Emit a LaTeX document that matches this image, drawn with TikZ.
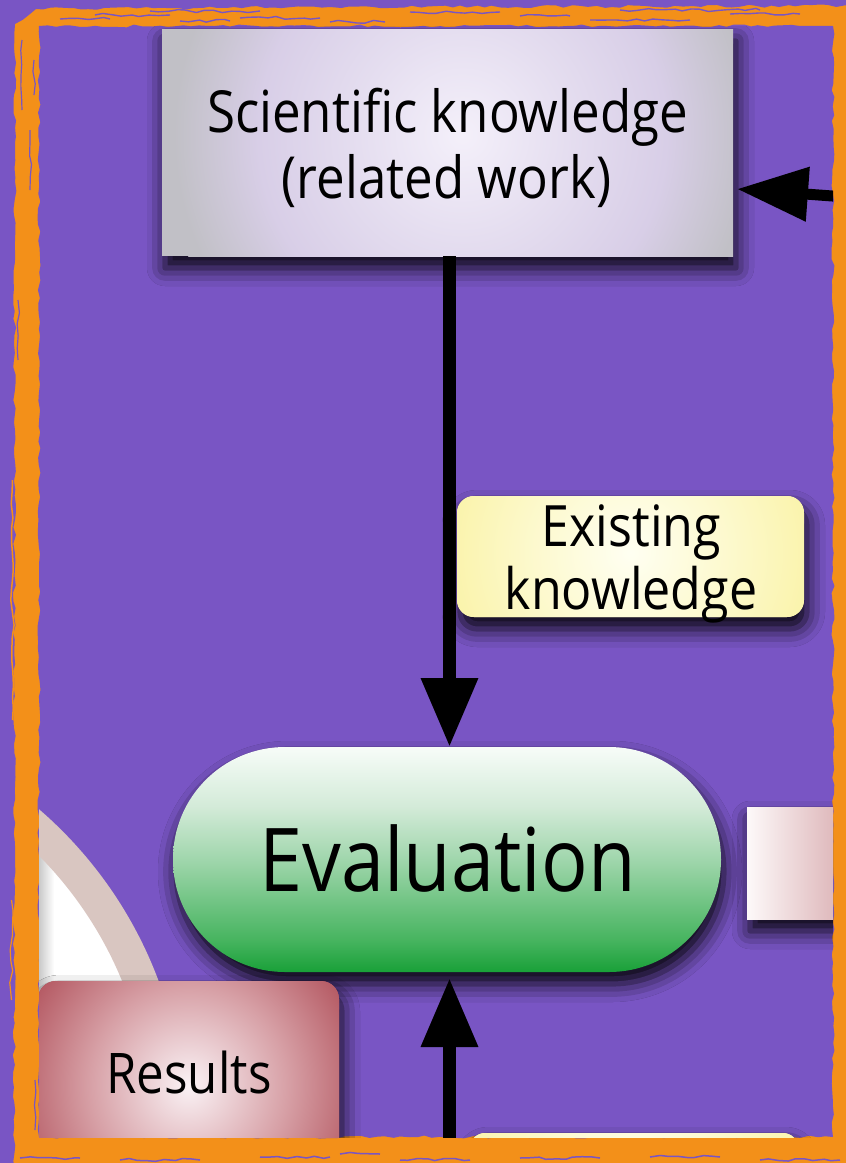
\documentclass[tikz,border=0pt]{standalone}
\usepackage{fontspec}
\setmainfont[FakeStretch=0.88]{Open Sans}
\usetikzlibrary{arrows.meta,shadows.blur,decorations.pathmorphing,calc}

\definecolor{bgpurple}{RGB}{121,85,196}
\definecolor{frameor}{RGB}{243,144,25}
\definecolor{tbC}{RGB}{244,240,250}
\definecolor{tbM}{RGB}{216,206,231}
\definecolor{tbE}{RGB}{193,192,198}
\definecolor{evT}{RGB}{247,252,248}
\definecolor{evQ}{RGB}{212,235,217}
\definecolor{evM}{RGB}{160,214,172}
\definecolor{evL}{RGB}{70,180,95}
\definecolor{evB}{RGB}{25,160,56}
\definecolor{rsC}{RGB}{250,242,245}
\definecolor{rsM}{RGB}{215,160,166}
\definecolor{rsE}{RGB}{176,80,90}
\definecolor{ekC}{RGB}{255,255,242}
\definecolor{ekE}{RGB}{250,243,168}
\definecolor{rbL}{RGB}{253,249,249}
\definecolor{rbR}{RGB}{214,166,170}
\definecolor{bandc}{RGB}{217,198,193}

\pgfdeclareradialshading{topshade}{\pgfpoint{0bp}{0bp}}{color(0bp)=(tbC); color(9bp)=(tbM!55!tbC); color(17bp)=(tbM); color(24bp)=(tbE); color(50bp)=(tbE)}
\pgfdeclareradialshading{resshade}{\pgfpoint{0bp}{0bp}}{color(0bp)=(rsC); color(13bp)=(rsM); color(25bp)=(rsE); color(50bp)=(rsE)}
\pgfdeclareradialshading{ekshade}{\pgfpoint{0bp}{0bp}}{color(0bp)=(ekC); color(13bp)=(ekC!50!ekE); color(25bp)=(ekE); color(50bp)=(ekE)}
\pgfdeclareverticalshading{evshade}{100bp}{color(0bp)=(evB); color(25bp)=(evB); color(32bp)=(evL); color(50bp)=(evM); color(62bp)=(evQ); color(75bp)=(evT); color(100bp)=(evT)}

\tikzset{
  boxbase/.style={inner sep=0pt, outer sep=0pt, draw=none},
  shad/.style={blur shadow={shadow xshift=3pt, shadow yshift=-12pt, shadow blur radius=18pt, shadow opacity=95}},
  txt/.style={inner sep=0pt, text=black, anchor=base},
  arr/.style={line width=13pt, -{Triangle[length=69pt 0,width=54pt 0]}},
  arrside/.style={line width=11pt, -{Triangle[length=71pt 0,width=52pt 0]}},
  rough/.style={decorate, decoration={random steps, segment length=9pt, amplitude=1.6pt}},
  roughv/.style={decorate, decoration={random steps, segment length=12pt, amplitude=1.8pt}},
  edge/.style={decorate, decoration={random steps, segment length=8pt, amplitude=1.5pt}},
}

\begin{document}
\begin{tikzpicture}[x=1pt,y=-1pt]
\useasboundingbox (0,0) rectangle (846,1163);
% orange brush frame as page ground
\fill[frameor] (0,0) rectangle (846,1163);
\pgfmathsetseed{11}
% purple margin outside the frame (left and top)
\fill[bgpurple, edge] (-6,-6) -- (852,-6) -- (852,6) -- (330,7) -- (36,9) -- (30,14) -- (15,24) -- (14,1170) -- (-6,1170) -- cycle;
% purple inside the frame
\fill[bgpurple, edge] (39,26) -- (833,26) -- (833,1137) -- (39,1137) -- cycle;

\begin{scope}
\clip (39,26) rectangle (833,1137);

% partial circle (white disk with band)
\fill[white] (-236,1128) circle (404pt);
\begin{scope}
  \clip (-236,1128) circle (388pt);
  \shade[left color=black!32, right color=white] (31,845) rectangle (54,1163);
\end{scope}
\draw[bandc, line width=34pt] (-236,1128) circle (404pt);

% nodes
\node[boxbase, shad, fill=tbE, minimum width=571pt, minimum height=227pt,
  path picture={\shade[shading=topshade] ([xshift=15pt,yshift=8pt]path picture bounding box.center) circle (300pt);}]
  (sk) at (447.5,142.5) {};

\node[boxbase, shad, fill=ekE, minimum width=347pt, minimum height=121pt, rounded corners=17pt,
  path picture={\shade[shading=ekshade] ([yshift=4pt]path picture bounding box.center) circle (190pt);}]
  (ek) at (630.5,556.5) {};

\node[boxbase, shad, minimum width=548pt, minimum height=225pt, rounded corners=112pt,
  shading=evshade] (ev) at (447,859.5) {};

\node[boxbase, shad, left color=rbL, right color=rbR, minimum width=113pt, minimum height=112pt]
  (rb) at (803.5,863) {};

\node[boxbase, shad, fill=rsE, minimum width=301pt, minimum height=209pt, rounded corners=18pt,
  path picture={\shade[shading=resshade] (path picture bounding box.center) circle (190pt);}]
  (rs) at (188.5,1085.5) {};

\node[boxbase, shad, fill=ekE, minimum width=328pt, minimum height=116pt, rounded corners=15pt,
  path picture={\shade[shading=ekshade] (path picture bounding box.center) circle (190pt);}]
  (yb) at (634,1191) {};

% texts
\node[txt, font=\fontsize{58}{67}\selectfont] (skt1) at (447.5,132) {Scientific knowledge};
\node[txt, font=\fontsize{58}{67}\selectfont] (skt2) at (446.5,198) {(related work)};
\node[txt, font=\fontsize{57}{62}\selectfont] (ekt1) at (631.5,546) {Existing};
\node[txt, font=\fontsize{57}{62}\selectfont] (ekt2) at (631,609) {knowledge};
\node[txt, font=\fontsize{88}{96}\selectfont] (evt) at (447.5,891) {Evaluation};
\node[txt, font=\fontsize{56}{62}\selectfont] (rst) at (189,1093) {Results};

% connectors
\coordinate (rin) at (846,197);
\coordinate (bin) at (449.5,1163);
\draw[arrside] (rin) -- ([xshift=4pt,yshift=-46.5pt]sk.east);
\draw[arr] ([xshift=2pt]sk.south) -- ([xshift=2.5pt]ev.north);
\draw[arr] (bin) -- ([xshift=2.5pt,yshift=-6pt]ev.south);
\end{scope}

% brush texture on the frame
\foreach \xa/\xb/\yy in {95/170/15, 240/320/18, 410/500/12, 590/690/20, 330/385/22, 730/800/14, 180/230/21, 520/570/16, 60/110/19, 150/260/11, 620/760/10}
  \draw[bgpurple, line width=1.4pt, rough] (\xa,\yy) -- (\xb,\yy);
\foreach \ya/\yb/\xx in {40/110/22, 130/190/30, 60/95/34, 300/360/18, 1080/1130/35}
  \draw[bgpurple, line width=1.2pt, roughv] (\xx,\ya) -- (\xx,\yb);
\foreach \xa/\xb/\yy in {20/80/1158, 120/200/1160, 260/330/1157, 400/470/1160, 520/600/1158, 650/720/1157, 760/840/1160, 340/380/1154}
  \draw[bgpurple, line width=1.5pt, rough] (\xa,\yy) -- (\xb,\yy);
\foreach \xx/\ww/\ya/\yb in {12.5/1.5/480/720, 11.5/1.2/900/1000}
  \draw[frameor, line width=\ww pt, roughv] (\xx,\ya) -- (\xx,\yb);
\end{tikzpicture}
\end{document}
